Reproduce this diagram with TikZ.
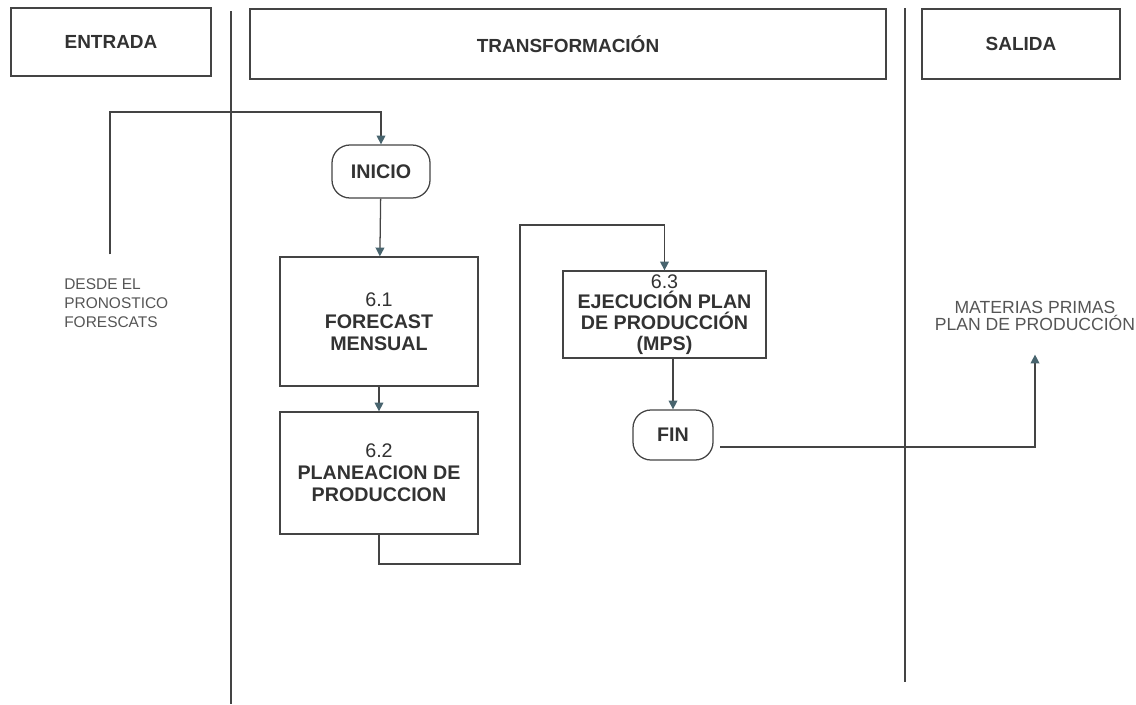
\documentclass[tikz,border=0pt]{standalone}
\usepackage{fontspec}
\setmainfont{Liberation Sans}
\usetikzlibrary{arrows.meta}

\definecolor{linecol}{RGB}{68,68,68}
\definecolor{tipcol}{RGB}{72,100,110}
\definecolor{txtcol}{RGB}{50,50,50}
\definecolor{plaincol}{RGB}{85,85,85}

\tikzset{
  lane/.style={draw=linecol,line width=0.9pt},
  flow/.style={draw=linecol,line width=0.9pt,
    -{Triangle[length=0.22cm,width=0.22cm,color=tipcol]}},
  stepbox/.style={rectangle,draw=linecol,line width=0.9pt,align=center,inner sep=0pt,
    font=\bfseries\fontsize{14}{15.5}\selectfont,text=txtcol},
  termbox/.style={stepbox,rounded corners=0.45cm},
}

\begin{document}
\begin{tikzpicture}[x=0.025cm,y=-0.025cm]
        \useasboundingbox (0,0) rectangle (1136,704);

        % swimlane dividers
        \draw[lane] (231,11) -- (231,704);
        \draw[lane] (905,8)  -- (905,682);

        \begin{scope}[every node/.style={rectangle,draw=linecol,line width=0.9pt,
            font=\bfseries\fontsize{13.5}{15}\selectfont,text=txtcol}]
          \node[minimum width=5cm,minimum height=1.7cm]      (entrada)  at (111,42)  {ENTRADA};
          \node[minimum width=15.9cm,minimum height=1.75cm]  (transf)   at (568,44)  {TRANSFORMACIÓN};
          \node[minimum width=4.95cm,minimum height=1.75cm]  (salida)   at (1021,44) {SALIDA};
        \end{scope}

        \node[termbox,minimum width=2.45cm,minimum height=1.325cm] (inicio) at (381,171.5) {INICIO};
        \node[stepbox,minimum width=4.95cm,minimum height=3.225cm] (forecast) at (379,321.5)
          {{\mdseries 6.1}\\FORECAST\\MENSUAL};
        \node[stepbox,minimum width=4.95cm,minimum height=3.05cm] (plan) at (379,473)
          {{\mdseries 6.2}\\PLANEACION DE\\PRODUCCION};
        \node[stepbox,minimum width=5.075cm,minimum height=2.175cm,
              font=\bfseries\fontsize{14}{14.8}\selectfont] (ejec) at (664.5,314.5)
          {{\mdseries 6.3}\\EJECUCIÓN PLAN\\DE PRODUCCIÓN\\(MPS)};
        \node[termbox,minimum width=2cm,minimum height=1.25cm] (fin) at (673,435) {FIN};

        \begin{scope}[every node/.style={inner sep=0pt,text=plaincol}]
          \node[anchor=west,align=left,font=\fontsize{11}{13.5}\selectfont] (desde) at (64,303)
            {DESDE EL\\PRONOSTICO\\FORESCATS};
          \node[align=center,font=\fontsize{12.5}{11.5}\selectfont] (materias) at (1035,316)
            {MATERIAS PRIMAS\\PLAN DE PRODUCCIÓN};
        \end{scope}

        % bends
        \coordinate (k0) at (110,112);
        \coordinate (k1) at (520,564);
        \coordinate (k2) at (520,225);

        \draw[flow,shorten <=0.6cm] (k0 |- desde.north) -- (k0) -| (inicio.north);
        \draw[flow] (inicio) -- (forecast);
        \draw[flow] (forecast) -- (plan);
        \draw[flow] (plan.south) |- (k1) -- (k2) -| (ejec.north);
        \draw[flow] (ejec.south -| fin.north) -- (fin.north);
        \draw[flow,shorten <=0.17cm,shorten >=0.6cm] ([yshift=-0.3cm]fin.east) -| (materias.south);

      \end{tikzpicture}
\end{document}
